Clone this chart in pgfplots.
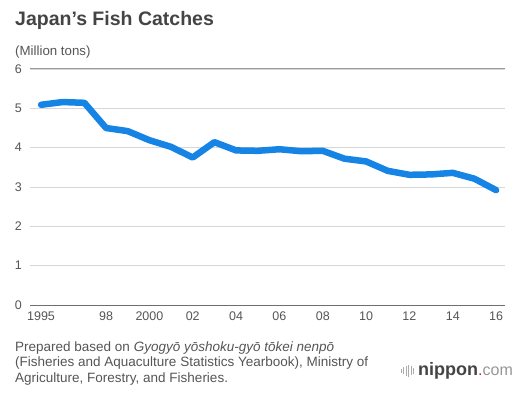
\documentclass[border=0pt]{standalone}
\usepackage{pgfplots}
\pgfplotsset{compat=1.18}
\usepackage{fontspec}
\setmainfont{Liberation Sans}
\definecolor{lineblue}{RGB}{22,132,228}
\definecolor{txtgrey}{RGB}{85,85,85}
\definecolor{titlegrey}{RGB}{68,68,68}
\definecolor{gridgrey}{RGB}{215,215,215}
\definecolor{darkgrid}{RGB}{110,110,110}
\definecolor{logored}{RGB}{220,40,40}
\definecolor{logolight}{RGB}{150,150,150}
\begin{document}
\begin{tikzpicture}[x=1bp,y=1bp]
\path[use as bounding box] (0,0) rectangle (531,395);
\begin{axis}[
  at={(30bp,90bp)}, anchor=south west,
  scale only axis, width=475bp, height=236bp,
  xmin=1994.49, xmax=2016.41, ymin=0, ymax=6,
  axis line style={draw=none},
  tick style={draw=none},
  ytick={0,1,2,3,4,5,6},
  ymajorgrids, grid style={gridgrey, line width=0.8bp},
  xtick={1995,1998,2000,2002,2004,2006,2008,2010,2012,2014,2016},
  xticklabels={1995,98,2000,02,04,06,08,10,12,14,16},
  ticklabel style={font=\fontsize{12.5bp}{14bp}\selectfont, text=txtgrey},
  /pgf/number format/assume math mode=true,
  yticklabel style={anchor=east, inner sep=0pt, xshift=-8bp},
  xticklabel style={anchor=north, inner sep=0pt, yshift=-7bp},
  clip=false,
]
\draw[darkgrid, line width=1bp] (axis cs:1994.49,0) -- (axis cs:2016.41,0);
\draw[darkgrid!70, line width=1bp] (axis cs:1994.49,6) -- (axis cs:2016.41,6);
\addplot[lineblue, line width=6.5bp, line join=round, line cap=round] coordinates {
(1995,5.09) (1996,5.16) (1997,5.14) (1998,4.50) (1999,4.42) (2000,4.19)
(2001,4.02) (2002,3.75) (2003,4.14) (2004,3.93) (2005,3.92) (2006,3.96)
(2007,3.91) (2008,3.92) (2009,3.72) (2010,3.65) (2011,3.41) (2012,3.31)
(2013,3.32) (2014,3.36) (2015,3.21) (2016,2.92)
};
\end{axis}
\node[anchor=base west, inner sep=0pt, text=titlegrey, font=\bfseries\fontsize{19.5bp}{22bp}\selectfont] at (15,370) {Japan’s Fish Catches};
\node[anchor=base west, inner sep=0pt, text=txtgrey, font=\fontsize{13.3bp}{15bp}\selectfont] at (15,340) {(Million tons)};
\node[anchor=base west, inner sep=0pt, text=txtgrey, font=\fontsize{13.5bp}{15bp}\selectfont] at (15,44) {Prepared based on \textit{Gyogyō yōshoku-gyō tōkei nenpō}};
\node[anchor=base west, inner sep=0pt, text=txtgrey, font=\fontsize{13.5bp}{15bp}\selectfont] at (15,28.5) {(Fisheries and Aquaculture Statistics Yearbook), Ministry of};
\node[anchor=base west, inner sep=0pt, text=txtgrey, font=\fontsize{13.5bp}{15bp}\selectfont] at (15,13) {Agriculture, Forestry, and Fisheries.};
% logo
\foreach \xx/\hh in {401/4,403.5/7,406/10,408.5/12,411/9,413.5/6}{
  \draw[logolight!80, line width=1bp] (\xx,24.5-\hh/2) -- (\xx,24.5+\hh/2);
}
\node[anchor=base west, inner sep=0pt] at (418,20) {\textcolor{titlegrey}{\bfseries\fontsize{18bp}{20bp}\selectfont nippon}\textcolor{logored}{\fontsize{16bp}{20bp}\selectfont .}\textcolor{logolight}{\fontsize{16bp}{20bp}\selectfont com}};
\end{tikzpicture}
\end{document}
